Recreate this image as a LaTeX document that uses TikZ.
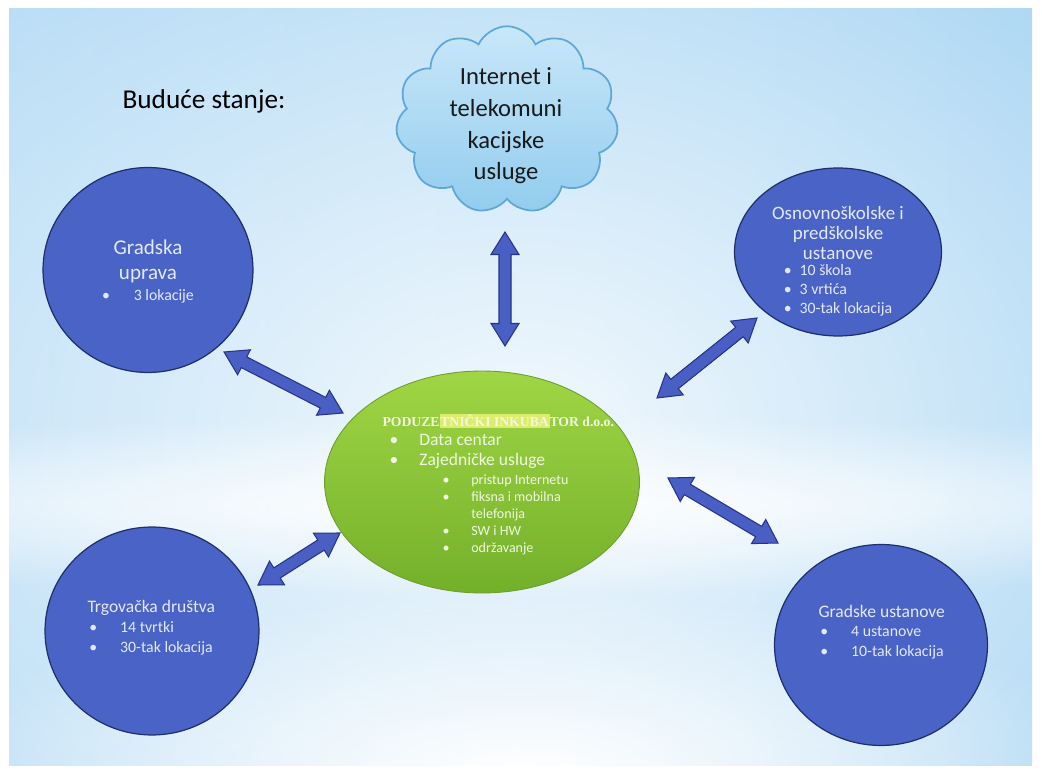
\documentclass[tikz,border=0pt]{standalone}
\usepackage{fontspec}
\setmainfont{Carlito}
\newfontfamily\hubserif{Liberation Serif}
\usetikzlibrary{shapes.geometric,shapes.symbols,calc,fadings}

\definecolor{skyleft}{HTML}{B3DAF5}
\definecolor{skymid}{HTML}{D3EBFA}
\definecolor{skyright}{HTML}{A6D4F3}
\definecolor{placeblue}{HTML}{4A63C6}
\definecolor{placeline}{HTML}{1E2F6E}
\definecolor{placetext}{HTML}{E3E8F8}
\definecolor{arrowblue}{HTML}{4A5FC4}
\definecolor{arrowline}{HTML}{26348A}
\definecolor{hubtop}{HTML}{A0D645}
\definecolor{hubbottom}{HTML}{73B02A}
\definecolor{hubline}{HTML}{6E9E2E}
\definecolor{hubtext}{HTML}{F2F7E2}
\definecolor{hilite}{HTML}{DCEC6E}
\definecolor{cloudtop}{HTML}{C8E7F9}
\definecolor{cloudbottom}{HTML}{92CCEE}
\definecolor{cloudline}{HTML}{5EA7D8}

\tikzfading[name=glow, inner color=transparent!0, outer color=transparent!100]

\begin{document}
\begin{tikzpicture}[x=0.02cm, y=-0.02cm, semithick]
  \tikzstyle{place}=[ellipse, draw=placeline, line width=0.7pt, fill=placeblue, inner sep=0pt]
  \tikzstyle{placetext}=[text=placetext, inner sep=0pt]
  \tikzstyle{hubtext}=[text=hubtext, inner sep=0pt, align=left, anchor=west]
  \tikzstyle{dblarrow}=[fill=arrowblue, draw=arrowline, line width=0.6pt, line join=miter,
    to path={
      -- ($(\tikztostart)!0.45cm!(\tikztotarget)!0.28cm!90:(\tikztotarget)$)
      -- ($(\tikztostart)!0.45cm!(\tikztotarget)!0.12cm!90:(\tikztotarget)$)
      -- ($(\tikztotarget)!0.45cm!(\tikztostart)!0.12cm!-90:(\tikztostart)$)
      -- ($(\tikztotarget)!0.45cm!(\tikztostart)!0.28cm!-90:(\tikztostart)$)
      -- (\tikztotarget)
      -- ($(\tikztotarget)!0.45cm!(\tikztostart)!0.28cm!90:(\tikztostart)$)
      -- ($(\tikztotarget)!0.45cm!(\tikztostart)!0.12cm!90:(\tikztostart)$)
      -- ($(\tikztostart)!0.45cm!(\tikztotarget)!0.12cm!-90:(\tikztotarget)$)
      -- ($(\tikztostart)!0.45cm!(\tikztotarget)!0.28cm!-90:(\tikztotarget)$)
      -- cycle}]

  % Background (slide sky)
  \useasboundingbox (0,0) rectangle (1042,773);
  \fill[white] (0,0) rectangle (1042,773);
  \shade[left color=skyleft, middle color=skymid, right color=skyright] (9,9) rectangle (1032,765);
  \begin{scope}
    \clip (9,9) rectangle (1032,765);
    \fill[white, opacity=0.85, path fading=glow] (-339,-220) rectangle (1381,1100);
    \fill[white, opacity=0.9, path fading=glow] (-600,415) rectangle (1642,595);
    \fill[white, path fading=glow] (-79,590) rectangle (1121,950);
  \end{scope}

  % Nodes
  \node[font=\fontsize{15.5}{18}\selectfont] (title) at (204,101) {Buduće stanje:};

  \node[cloud, cloud puffs=11, cloud puff arc=130, cloud ignores aspect,
        minimum width=4.45cm, minimum height=3.75cm, inner sep=0pt,
        top color=cloudtop, bottom color=cloudbottom, draw=cloudline, line width=1pt]
        (net) at (507,120) {};
  \node[align=center, text=black!90, inner sep=0pt, font=\fontsize{14}{18}\selectfont]
        (nettext) at (506,126) {Internet i\\telekomuni\\kacijske\\usluge};

  \node[place, minimum width=4.2cm, minimum height=4.1cm]   (gu) at (148,270) {};
  \node[place, minimum width=4.14cm, minimum height=3.36cm] (os) at (838,252) {};
  \node[place, minimum width=4.28cm, minimum height=4.16cm] (tg) at (152,631) {};
  \node[place, minimum width=4.26cm, minimum height=4.02cm] (gs) at (881,645) {};
  \node[ellipse, minimum width=6.3cm, minimum height=4.44cm, inner sep=0pt,
        top color=hubtop, bottom color=hubbottom, draw=hubline, line width=0.5pt]
        (pi) at (482,482) {};

  % Texts in the circles
  \node[placetext, align=center, font=\fontsize{12}{14.2}\selectfont] (gutitle) at (148,261) {Gradska\\uprava};
  \node[placetext, font=\fontsize{9}{11}\selectfont] (guitem) at (148,296)
    {\makebox[18pt][l]{\textbullet}3 lokacije};

  \node[placetext, align=center, font=\fontsize{10.8}{11.3}\selectfont] (ostitle) at (838,233)
    {Osnovnoškolske i\\predškolske\\ustanove};
  \node[placetext, align=left, font=\fontsize{9}{10.8}\selectfont] (ositem) at (838,290)
    {\makebox[9pt][l]{\textbullet}10 škola\\\makebox[9pt][l]{\textbullet}3 vrtića\\\makebox[9pt][l]{\textbullet}30-tak lokacija};

  \node[placetext, align=left, anchor=west, font=\fontsize{9}{11.3}\selectfont] (tgtxt) at (87,628)
    {{\fontsize{10}{11.3}\selectfont Trgovačka društva}\\
     \hspace*{1pt}\makebox[17.6pt][l]{\textbullet}14 tvrtki\\
     \hspace*{1pt}\makebox[17.6pt][l]{\textbullet}30-tak lokacija};

  \node[placetext, align=left, anchor=west, font=\fontsize{9}{11}\selectfont] (gstxt) at (818,632)
    {{\fontsize{10}{11}\selectfont Gradske ustanove}\\
     \hspace*{1pt}\makebox[17.6pt][l]{\textbullet}4 ustanove\\
     \hspace*{1pt}\makebox[17.6pt][l]{\textbullet}10-tak lokacija};

  % Texts in the hub
  \node[hubtext, font=\hubserif\bfseries\fontsize{7.8}{10}\selectfont] (pititle) at (382,421)
    {PODUZE{\setlength{\fboxsep}{0.4pt}\colorbox{hilite}{TNIČKI INKUBA}}TOR d.o.o.};
  \node[hubtext, font=\fontsize{10}{11.3}\selectfont] (pimain) at (389,451)
    {\makebox[17pt][l]{\textbullet}Data centar\\\makebox[17pt][l]{\textbullet}Zajedničke usluge};
  \node[hubtext, font=\fontsize{8}{9.6}\selectfont] (pisub) at (442,515)
    {\makebox[16.4pt][l]{\textbullet}pristup Internetu\\
     \makebox[16.4pt][l]{\textbullet}fiksna i mobilna\\
     \hspace*{16.4pt}telefonija\\
     \makebox[16.4pt][l]{\textbullet}SW i HW\\
     \makebox[16.4pt][l]{\textbullet}održavanje};

  % Arrow ends
  \coordinate (net-a) at (505,232);  \coordinate (pi-a) at (505,346);
  \coordinate (gu-a)  at (224,352);  \coordinate (pi-b) at (343,413);
  \coordinate (tg-a)  at (258,585);  \coordinate (pi-c) at (340,533);
  \coordinate (os-a)  at (757,318);  \coordinate (pi-d) at (657,398);
  \coordinate (gs-a)  at (778,543);  \coordinate (pi-e) at (668,478);

  % Edges
  \path[dblarrow] (net-a) to (pi-a);
  \path[dblarrow] (gu-a) to (pi-b);
  \path[dblarrow] (tg-a) to (pi-c);
  \path[dblarrow] (os-a) to (pi-d);
  \path[dblarrow] (gs-a) to (pi-e);
\end{tikzpicture}
\end{document}
